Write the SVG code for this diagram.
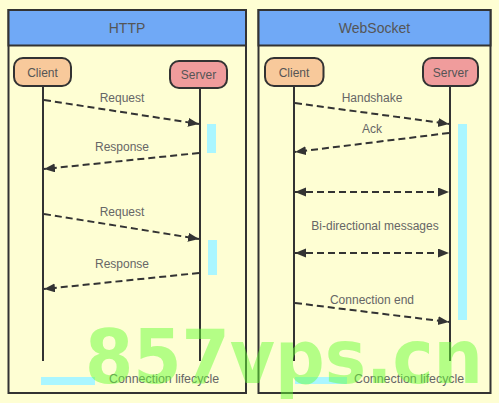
<svg xmlns="http://www.w3.org/2000/svg" width="499" height="403" viewBox="0 0 499 403">
<defs>
<style>
.panel{fill:#FEFED3;stroke:#333;stroke-width:2}
.head{fill:#70A9F6;stroke:#333;stroke-width:2}
.title{font-family:"Liberation Sans",Arial,sans-serif;font-size:14px;fill:#555;text-anchor:middle}
.client{fill:#F8C99B;stroke:#333;stroke-width:2}
.server{fill:#F09C9C;stroke:#333;stroke-width:2}
.ntext{font-family:"Liberation Sans",Arial,sans-serif;font-size:12px;fill:#555;text-anchor:middle}
.life{stroke:#333;stroke-width:2;fill:none}
.msg{stroke:#333;stroke-width:2;fill:none;stroke-dasharray:7 4}
.lbl{font-family:"Liberation Sans",Arial,sans-serif;font-size:12px;fill:#666;text-anchor:middle}
.leg{font-family:"Liberation Sans",Arial,sans-serif;font-size:12.4px;fill:#666}
.act{fill:#AAF6FF}
.wm{font-family:"DejaVu Sans",sans-serif;font-weight:bold;font-size:75px;fill:#66FF33;opacity:0.48}
</style>
<marker id="ah" markerUnits="userSpaceOnUse" markerWidth="12" markerHeight="10" refX="11" refY="4.5" orient="auto-start-reverse" viewBox="0 0 12 10">
<path d="M0,0 L11,4.5 L0,9 z" fill="#333"/>
</marker>
</defs>
<rect width="499" height="403" fill="#FEFED3"/>
<g id="panel-http">
<rect class="panel" x="8.5" y="10" width="237.5" height="383"/>
<rect class="head" x="8.5" y="10" width="237.5" height="35.5"/>
<text class="title" x="127" y="33">HTTP</text>
</g>
<g id="panel-ws">
<rect class="panel" x="258.5" y="10" width="232" height="383"/>
<rect class="head" x="258.5" y="10" width="232" height="35.5"/>
<text class="title" x="374.5" y="33">WebSocket</text>
</g>
<g id="activations">
<rect class="act" x="207" y="124" width="9" height="29"/>
<rect class="act" x="208" y="240" width="9" height="35"/>
<rect class="act" x="458" y="124" width="9" height="196"/>
</g>
<g id="lifelines">
<line class="life" x1="43" y1="86" x2="43" y2="361"/>
<line class="life" x1="200" y1="88" x2="200" y2="361"/>
<line class="life" x1="294" y1="86" x2="294" y2="361"/>
<line class="life" x1="450" y1="86" x2="450" y2="361"/>
</g>
<g id="http-client"><rect class="client" x="14" y="58" width="57" height="28" rx="9"/><text class="ntext" x="42.5" y="76.5">Client</text></g>
<g id="http-server"><rect class="server" x="170" y="61" width="57" height="27" rx="9"/><text class="ntext" x="198.5" y="79">Server</text></g>
<g id="ws-client"><rect class="client" x="265" y="58" width="58.5" height="28" rx="9"/><text class="ntext" x="294" y="76.5">Client</text></g>
<g id="ws-server"><rect class="server" x="423" y="58" width="55" height="28" rx="9"/><text class="ntext" x="450.5" y="76.5">Server</text></g>
<g id="connectors">
<line class="msg" x1="44" y1="100" x2="199" y2="124" marker-end="url(#ah)"/>
<line class="msg" x1="199" y1="153" x2="44" y2="169" marker-end="url(#ah)"/>
<line class="msg" x1="44" y1="214" x2="199" y2="239" marker-end="url(#ah)"/>
<line class="msg" x1="199" y1="273" x2="44" y2="289" marker-end="url(#ah)"/>
<line class="msg" x1="295" y1="103" x2="449" y2="124" marker-end="url(#ah)"/>
<line class="msg" x1="449" y1="133" x2="295" y2="152" marker-end="url(#ah)"/>
<line class="msg" x1="295" y1="192" x2="449" y2="192" marker-start="url(#ah)" marker-end="url(#ah)"/>
<line class="msg" x1="295" y1="253" x2="449" y2="253" marker-start="url(#ah)" marker-end="url(#ah)"/>
<line class="msg" x1="295" y1="303" x2="449" y2="322" marker-end="url(#ah)"/>
</g>
<g id="labels">
<text class="lbl" x="122" y="102">Request</text>
<text class="lbl" x="122" y="151">Response</text>
<text class="lbl" x="122" y="216">Request</text>
<text class="lbl" x="122" y="268">Response</text>
<text class="lbl" x="372" y="102">Handshake</text>
<text class="lbl" x="372" y="133">Ack</text>
<text class="lbl" x="375" y="230">Bi-directional messages</text>
<text class="lbl" x="372" y="304">Connection end</text>
</g>
<g id="legend">
<rect class="act" x="41" y="377" width="54" height="8"/>
<text class="leg" x="109" y="383">Connection lifecycle</text>
<rect class="act" x="295" y="377" width="52" height="7"/>
<text class="leg" x="354" y="383">Connection lifecycle</text>
</g>
<text class="wm" x="85" y="383" textLength="398" lengthAdjust="spacingAndGlyphs">857vps.cn</text>
</svg>
